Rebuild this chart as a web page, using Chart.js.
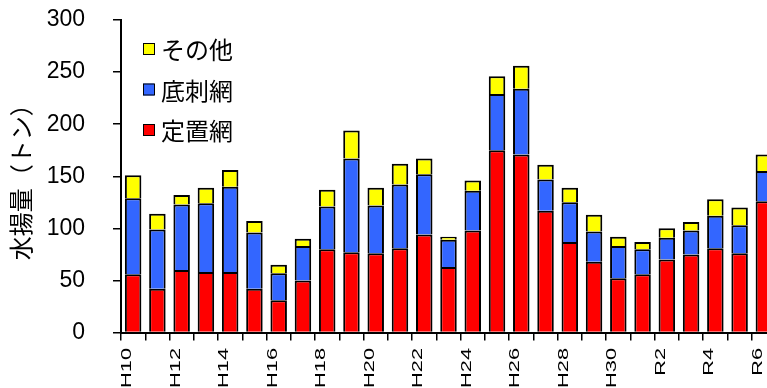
<!DOCTYPE html>
<html>
<head>
<meta charset="utf-8">
<script src="https://cdn.jsdelivr.net/npm/chart.js@4.4.1/dist/chart.umd.min.js"></script>
<style>
  html, body { margin: 0; padding: 0; background: #fff; overflow: hidden; }
  #wrap { width: 767px; height: 388px; overflow: hidden; position: relative; }
  canvas { display: block; }
</style>
</head>
<body>
<div id="wrap"><canvas id="c" width="776" height="388" style="width:776px;height:388px"></canvas></div>
<script>
// 年度（平成10年〜令和6年）
const years = [
  'H10', 'H11', 'H12', 'H13', 'H14', 'H15', 'H16', 'H17', 'H18', 'H19',
  'H20', 'H21', 'H22', 'H23', 'H24', 'H25', 'H26', 'H27', 'H28', 'H29',
  'H30', 'R1', 'R2', 'R3', 'R4', 'R5', 'R6'
];

// 漁法別の水揚量（トン）
const teichiami = [56, 42, 60, 58, 58, 42, 31, 50, 80, 77, 76, 81, 94, 63, 98, 175, 171, 117, 87, 68, 52, 56, 70, 75, 81, 76, 126];
const sokosashiami = [73, 57, 63, 66, 82, 54, 26, 33, 41, 90, 46, 61, 58, 26, 38, 54, 63, 30, 38, 29, 31, 24, 21, 23, 31, 27, 29];
const sonota = [22, 15, 9, 15, 16, 11, 8, 7, 16, 27, 17, 20, 15, 3, 10, 17, 22, 14, 14, 16, 9, 7, 9, 8, 16, 17, 16];

// 縦軸の目盛り
const yTicks = [0, 50, 100, 150, 200, 250, 300];

// 凡例をグラフ領域の左上に縦並びで描く（積み上げの上から順）
const insideLegend = {
  id: 'insideLegend',
  afterDatasetsDraw(chart) {
    const { ctx, chartArea } = chart;
    const sets = chart.data.datasets.slice().reverse();
    const bx = chartArea.left + 22;
    const tx = chartArea.left + 40;
    ctx.save();
    ctx.font = '24px "Noto Sans CJK JP"';
    ctx.textBaseline = 'middle';
    ctx.textAlign = 'left';
    sets.forEach((ds, i) => {
      const cy = chartArea.top + 29 + i * 40.5;
      ctx.fillStyle = ds.backgroundColor;
      ctx.fillRect(bx, cy - 6, 11, 12);
      ctx.strokeStyle = '#000';
      ctx.lineWidth = 1;
      ctx.strokeRect(bx + 0.5, cy - 5.5, 11, 11);
      ctx.fillStyle = '#000';
      ctx.fillText(ds.label, tx, cy + 1);
    });
    ctx.restore();
  }
};

// 横軸の年度ラベル（1年おき、縦書き・縦長の字形）
const yearLabels = {
  id: 'yearLabels',
  afterDraw(chart) {
    const { ctx } = chart;
    const xs = chart.scales.x;
    chart.data.labels.forEach((lab, i) => {
      if (i % 2 !== 0) return;
      const x = xs.getPixelForValue(i) - 6;
      const y = xs.top + 15.5;
      ctx.save();
      ctx.translate(x, y);
      ctx.rotate(-Math.PI / 2);
      ctx.scale(1.45, 1);
      ctx.font = '15px "Liberation Sans", Arial, sans-serif';
      ctx.fillStyle = '#000';
      ctx.textAlign = 'right';
      ctx.textBaseline = 'middle';
      ctx.fillText(lab, 0, 0);
      ctx.restore();
    });
  }
};

new Chart(document.getElementById('c'), {
  type: 'bar',
  data: {
    labels: years,
    datasets: [
      { label: '定置網', data: teichiami, backgroundColor: '#FF0000' },
      { label: '底刺網', data: sokosashiami, backgroundColor: '#3366FF' },
      { label: 'その他', data: sonota, backgroundColor: '#FFFF00' }
    ]
  },
  options: {
    responsive: false,
    maintainAspectRatio: false,
    animation: false,
    devicePixelRatio: 1,
    layout: { padding: { top: 20, right: 0, bottom: 0, left: 0 } },
    datasets: {
      bar: {
        borderColor: '#000',
        borderWidth: 2,
        barPercentage: 0.68,
        categoryPercentage: 1
      }
    },
    plugins: {
      legend: { display: false },
      tooltip: { enabled: false }
    },
    scales: {
      x: {
        stacked: true,
        grid: {
          display: true,
          drawOnChartArea: false,
          drawTicks: true,
          tickLength: 8,
          color: '#000',
          lineWidth: 1.5,
          offset: true
        },
        border: { display: true, color: '#000', width: 2 },
        ticks: { display: false },
        afterFit(scale) { scale.height = 55.5; }
      },
      y: {
        stacked: true,
        min: yTicks[0],
        max: yTicks[yTicks.length - 1],
        afterBuildTicks(scale) { scale.ticks = yTicks.map(v => ({ value: v })); },
        grid: {
          drawOnChartArea: false,
          drawTicks: true,
          tickLength: 8,
          color: '#000',
          lineWidth: 1.5
        },
        border: { display: true, color: '#000', width: 2 },
        ticks: {
          padding: 28,
          color: '#000',
          font: { family: '"Liberation Sans"', size: 23 }
        },
        title: {
          display: true,
          text: '水揚量（トン）',
          color: '#000',
          font: { family: '"Noto Sans CJK JP"', size: 24 },
          padding: { top: 6, bottom: 0 }
        },
        afterFit(scale) {
          scale.width = 121;
          scale.paddingTop = 0;
          scale.paddingBottom = 0;
        }
      }
    }
  },
  plugins: [insideLegend, yearLabels]
});
</script>
</body>
</html>
